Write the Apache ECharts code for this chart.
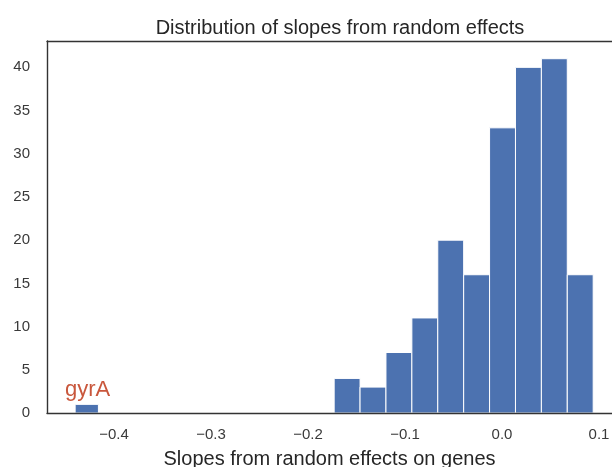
<!DOCTYPE html>
<html>
<head>
<meta charset="utf-8">
<script src="https://cdn.jsdelivr.net/npm/echarts@6/dist/echarts.min.js"></script>
<style>html,body{margin:0;padding:0;background:#fff;}#c{width:612px;height:467px;}</style>
</head>
<body>
<div id="c"></div>
<script>
// Histogram bins (left edge, right edge) and counts
const binStarts = [-0.4400, -0.1730, -0.1463, -0.1196, -0.0929, -0.0662, -0.0395, -0.0128, 0.0139, 0.0406, 0.0673];
const binEnds   = [-0.4160, -0.1463, -0.1196, -0.0929, -0.0662, -0.0395, -0.0128, 0.0139, 0.0406, 0.0673, 0.0940];
const counts    = [1, 4, 3, 7, 11, 20, 16, 33, 40, 41, 16];
const xTicks = [-0.4, -0.3, -0.2, -0.1, 0.0, 0.1];
const yTicks = [0, 5, 10, 15, 20, 25, 30, 35, 40];
const annotation = { text: 'gyrA', x: -0.4505, y: 1.4 };

const chart = echarts.init(document.getElementById('c'), null, { renderer: 'canvas' });
const fmtX = v => (v < 0 ? '\u2212' : '') + Math.abs(v).toFixed(1);
const FONT = 'Liberation Sans, Arial, sans-serif';

chart.setOption({
  animation: false,
  backgroundColor: '#ffffff',
  title: {
    text: 'Distribution of slopes from random effects',
    left: 335, top: 13, textAlign: 'center',
    textStyle: { fontFamily: FONT, fontSize: 20, fontWeight: 'normal', color: '#262626' }
  },
  grid: { left: 47, right: 0, top: 41, bottom: 54, containLabel: false, outerBoundsMode: 'none' },
  xAxis: [{
    type: 'value', min: -0.469, max: 0.1134, z: 10,
    axisLine: { show: true, onZero: false, lineStyle: { color: '#333333', width: 1.4 } },
    axisTick: { show: false },
    splitLine: { show: false },
    axisLabel: { customValues: xTicks, formatter: fmtX, margin: 14, fontFamily: FONT, fontSize: 15, color: '#3a3a3a' },
    name: 'Slopes from random effects on genes',
    nameLocation: 'middle', nameGap: 36,
    nameTextStyle: { fontFamily: FONT, fontSize: 20, color: '#262626' }
  }, {
    type: 'value', position: 'top', min: -0.469, max: 0.1134, z: 10,
    axisLine: { show: true, onZero: false, lineStyle: { color: '#333333', width: 1.4 } },
    axisTick: { show: false }, axisLabel: { show: false }, splitLine: { show: false }
  }],
  yAxis: {
    type: 'value', min: 0, max: 43.05, z: 10,
    axisLine: { show: true, onZero: false, lineStyle: { color: '#333333', width: 1.4 } },
    axisTick: { show: false },
    splitLine: { show: false },
    axisLabel: { customValues: yTicks, margin: 17, fontFamily: FONT, fontSize: 15, color: '#3a3a3a' }
  },
  series: [{
    type: 'custom',
    data: counts.map((c, i) => [binStarts[i], binEnds[i], c]),
    renderItem: function (params, api) {
      const p0 = api.coord([api.value(0), 0]);
      const p1 = api.coord([api.value(1), api.value(2)]);
      return {
        type: 'rect',
        shape: { x: p0[0], y: p1[1], width: p1[0] - p0[0], height: p0[1] - p1[1] },
        style: { fill: '#4C72B0', stroke: '#ffffff', lineWidth: 1 }
      };
    },
    z: 1
  }, {
    type: 'custom',
    data: [[annotation.x, annotation.y]],
    renderItem: function (params, api) {
      const p = api.coord([api.value(0), api.value(1)]);
      return {
        type: 'text',
        x: p[0], y: p[1],
        style: { text: annotation.text, fill: '#C9573C', font: '22px ' + FONT, textAlign: 'left', textVerticalAlign: 'bottom' }
      };
    },
    z: 3
  }]
});
</script>
</body>
</html>
